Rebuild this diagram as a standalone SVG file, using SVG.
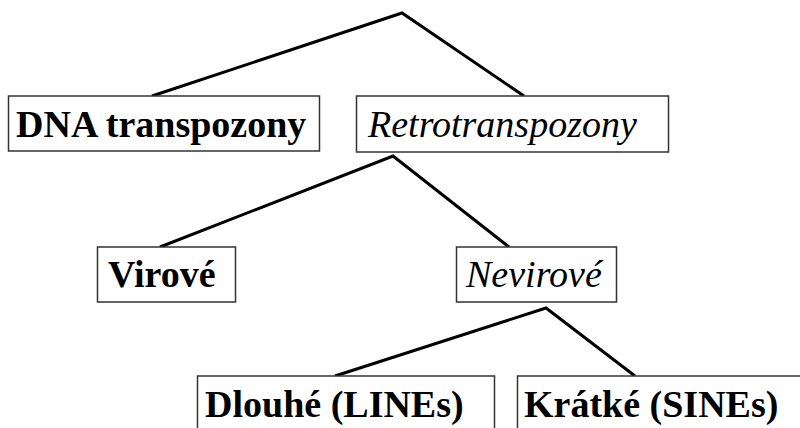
<svg xmlns="http://www.w3.org/2000/svg" width="800" height="428" viewBox="0 0 800 428">
<style>
.box{fill:#fff;stroke:#333;stroke-width:1.5}
.lbl{font-family:"Liberation Serif","Times New Roman",serif;font-size:38px;fill:#000}
.b{font-weight:bold}
.i{font-style:italic}
.conn{stroke:#000;stroke-width:3;fill:none}
</style>
<rect width="800" height="428" fill="#fff"/>
<g id="connectors">
<polyline class="conn" points="152,96 402,13 524,96"/>
<polyline class="conn" points="160,247 393,156 509,247"/>
<polyline class="conn" points="335,376 546,308 635,376"/>
</g>
<g id="dna">
<rect class="box" x="8.5" y="96" width="311" height="55"/>
<text class="lbl b" x="16" y="137">DNA transpozony</text>
</g>
<g id="retro">
<rect class="box" x="356.5" y="96" width="312" height="56"/>
<text class="lbl i" x="368" y="137">Retrotranspozony</text>
</g>
<g id="virove">
<rect class="box" x="97.5" y="247" width="138" height="55"/>
<text class="lbl b" x="108" y="287">Virové</text>
</g>
<g id="nevirove">
<rect class="box" x="456.5" y="247" width="160" height="55"/>
<text class="lbl i" x="466" y="287">Nevirové</text>
</g>
<g id="dlouhe">
<rect class="box" x="197.5" y="376" width="297" height="60"/>
<text class="lbl b" x="205" y="417">Dlouhé (LINEs)</text>
</g>
<g id="kratke">
<rect class="box" x="517.5" y="376" width="290" height="60"/>
<text class="lbl b" x="524" y="417">Krátké (SINEs)</text>
</g>
</svg>
